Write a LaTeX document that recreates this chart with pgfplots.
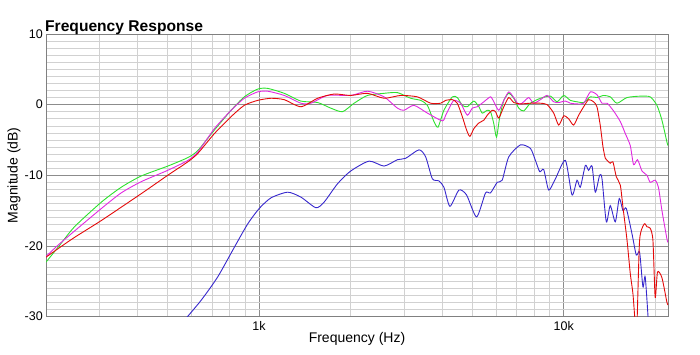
\documentclass[border=0pt]{standalone}
\usepackage{pgfplots}
\pgfplotsset{compat=1.18}
\usepackage{fontspec}
\setmainfont{Liberation Sans}
\definecolor{cgreen}{RGB}{45,225,45}
\definecolor{cmag}{RGB}{225,40,225}
\definecolor{cred}{RGB}{228,10,10}
\definecolor{cblue}{RGB}{55,40,205}
\begin{document}
\begin{tikzpicture}
\useasboundingbox (-46pt,-38.5pt) rectangle (654pt,316.5pt);
\begin{axis}[
  scale only axis, width=622pt, height=282.5pt,
  xmode=log, xmin=200, xmax=22000, ymin=-30, ymax=10,
  xtick={1000,10000}, xticklabels={1k,10k},
  minor xtick={200,300,400,500,600,700,800,900,2000,3000,4000,5000,6000,7000,8000,9000,20000},
  ytick={-30,-20,-10,0,10}, yticklabels={-30,-20,-10,0,10},
  minor ytick={-29,-28,-27,-26,-25,-24,-23,-22,-21,-19,-18,-17,-16,-15,-14,-13,-12,-11,-9,-8,-7,-6,-5,-4,-3,-2,-1,1,2,3,4,5,6,7,8,9},
  grid=both,
  major grid style={draw=black!45, line width=0.6pt},
  minor grid style={draw=black!18, line width=0.5pt},
  axis line style={draw=black!50, line width=0.6pt},
  major tick length=0pt, minor tick length=0pt,
  tick label style={font=\fontsize{12.5}{12.5}\selectfont},
  yticklabel style={inner sep=0pt, xshift=-3pt},
  xticklabel style={inner sep=0pt, yshift=-5pt},
  xlabel={Frequency (Hz)}, ylabel={Magnitude (dB)},
  label style={font=\fontsize{14}{14}\selectfont},
  xlabel style={at={(axis description cs:0.5,-0.0796)}, anchor=center, inner sep=0pt},
  ylabel style={at={(axis description cs:-0.0514,0.5)}, anchor=center, inner sep=0pt},
  every axis plot/.append style={line width=0.9pt, smooth, tension=0.4},
  clip=true,
]
% blue
\addplot[cblue] coordinates {
(570,-30.5) (646,-27.7) (732,-24.4) (830,-20.2) (918,-16.9) (1002,-14.7) (1095,-13.2)
(1242,-12.4) (1373,-13.1) (1537,-14.6) (1636,-13.8) (1811,-11.2) (2000,-9.4) (2298,-8.0)
(2573,-8.7) (2847,-7.8) (3030,-7.6) (3350,-6.4) (3524,-7.4) (3707,-10.5) (3896,-10.8)
(4045,-11.7) (4233,-14.4) (4531,-12.1) (4801,-12.8) (5178,-15.9) (5540,-12.5) (5753,-12.5)
(6052,-11.0) (6283,-10.7) (6603,-7.4) (7214,-5.7) (7778,-6.2) (8077,-7.9) (8344,-9.5)
(8600,-9.2) (8931,-12.1) (9393,-10.5) (10130,-7.9) (10650,-12.8) (11060,-10.7) (11340,-11.7)
(11780,-8.6) (12070,-9.3) (12390,-8.7) (12700,-12.4) (13120,-10.0) (13360,-10.5) (13800,-16.6)
(14220,-14.3) (14770,-16.6) (15220,-13.3) (15650,-15.0) (16050,-14.7) (16760,-18.3) (17310,-21.3)
(17750,-20.9) (18200,-25.8) (18520,-24.4) (18980,-31)
};
% green
\addplot[cgreen] coordinates {
(200,-22.3) (219,-20.2) (248,-17.3) (304,-13.8) (353,-11.7) (411,-10.1) (502,-8.7) (584,-7.5)
(630,-6.5) (714,-3.6) (810,-0.8) (895,1.1) (990,2.2) (1068,2.3) (1210,1.6) (1373,0.5) (1557,0.3)
(1721,-0.5) (1880,-1.0) (2052,0.2) (2270,1.3) (2573,1.6) (2847,1.7) (3147,0.9) (3393,0.6)
(3570,-0.1) (3735,-2.2) (3867,-3.2) (4045,-0.8) (4311,1.1) (4476,1.0) (4648,-0.1) (4827,-0.3)
(5073,0.5) (5268,-0.3) (5404,-1.2) (5612,-0.8) (5753,-1.0) (5898,-2.7) (6020,-4.6) (6171,-1.7)
(6360,0.6) (6603,1.6) (6858,0.9) (7122,-0.5) (7396,-0.9) (7778,0.2) (8388,0.9) (9046,1.2)
(9515,0.4) (10000,1.3) (10520,0.6) (11060,0.4) (11630,0.3) (12230,1.1) (12860,1.0) (13520,1.3)
(14220,1.1) (14960,0.2) (16140,1.0) (17840,1.2) (19230,1.1) (20230,-0.1) (21010,-2.2)
(21820,-5.3) (22000,-5.8)
};
% magenta
\addplot[cmag] coordinates {
(200,-21.5) (219,-19.9) (248,-17.9) (304,-14.7) (353,-12.5) (411,-10.9) (502,-9.3) (584,-7.9)
(630,-6.7) (714,-3.4) (810,-0.8) (895,0.9) (990,1.8) (1068,1.9) (1210,1.3) (1373,0.2) (1480,0.2)
(1679,1.3) (2000,1.3) (2270,1.9) (2573,1.1) (2847,-0.5) (2992,-0.8) (3226,-0.1) (3570,-1.2)
(3997,-2.3) (4098,-1.5) (4233,-0.3) (4363,0.6) (4589,0.2) (4827,-1.5) (5012,-0.5) (5205,-0.3)
(5470,0.4) (5753,1.1) (5898,0.4) (6125,-0.8) (6360,0.6) (6603,1.8) (6858,1.0) (7122,0.0)
(7396,0.4) (7680,1.0) (7974,0.2) (8388,0.7) (8823,1.3) (9273,0.4) (9630,0.3) (10130,0.5)
(10520,0.2) (11060,0.1) (11630,0.2) (12230,1.8) (12860,1.4) (13360,0.2) (13880,0.2) (14580,-0.9)
(15340,-2.4) (15930,-4.1) (16540,-5.8) (16960,-8.5) (17480,-7.8) (18070,-9.4) (18760,-10.0)
(19230,-11.0) (19970,-10.7) (20480,-11.8) (21010,-15.0) (21820,-19.0) (22000,-19.5)
};
% red
\addplot[cred] coordinates {
(200,-21.6) (219,-20.4) (248,-18.8) (304,-16.4) (411,-12.6) (502,-10.0) (584,-8.1) (630,-6.9)
(714,-4.1) (810,-1.7) (895,-0.1) (990,0.6) (1095,0.9) (1210,0.7) (1373,-0.3) (1557,0.9)
(1765,1.5) (2000,1.3) (2270,1.6) (2573,0.9) (2918,1.3) (3310,1.1) (3660,0.2) (3946,0.2)
(4098,0.6) (4311,0.7) (4476,0.2) (4648,-1.7) (4801,-3.6) (4922,-4.5) (5073,-3.4) (5268,-2.6)
(5470,-2.2) (5612,-1.5) (5828,-0.8) (5974,-1.0) (6125,-1.9) (6360,-0.3) (6603,1.0) (6858,0.3)
(7214,0.1) (7778,0.2) (8388,0.2) (8823,0.0) (9273,-1.2) (9630,-2.9) (10000,-1.6) (10380,-2.0)
(10780,-2.9) (11200,-1.5) (11630,-0.3) (12070,0.7) (12540,0.4) (12860,-0.3) (13190,-3.0)
(13460,-6.0) (13700,-7.6) (13880,-7.9) (14220,-8.3) (14510,-8.1) (14880,-10.2) (15340,-11.4)
(15650,-14.5) (16140,-19.2) (16540,-23.9) (16880,-26.8) (17180,-31) (17400,-31) (17750,-19.2)
(18380,-16.9) (18760,-17.3) (19230,-17.5) (19630,-19.2) (19970,-27.3) (20320,-23.7) (21010,-24.5)
(21820,-28.0) (22000,-28.3)
};
\end{axis}
\node[anchor=base west, inner sep=0pt, font=\bfseries\fontsize{15.6}{15.6}\selectfont] at (-1pt,284.8pt) {Frequency Response};
\end{tikzpicture}
\end{document}
